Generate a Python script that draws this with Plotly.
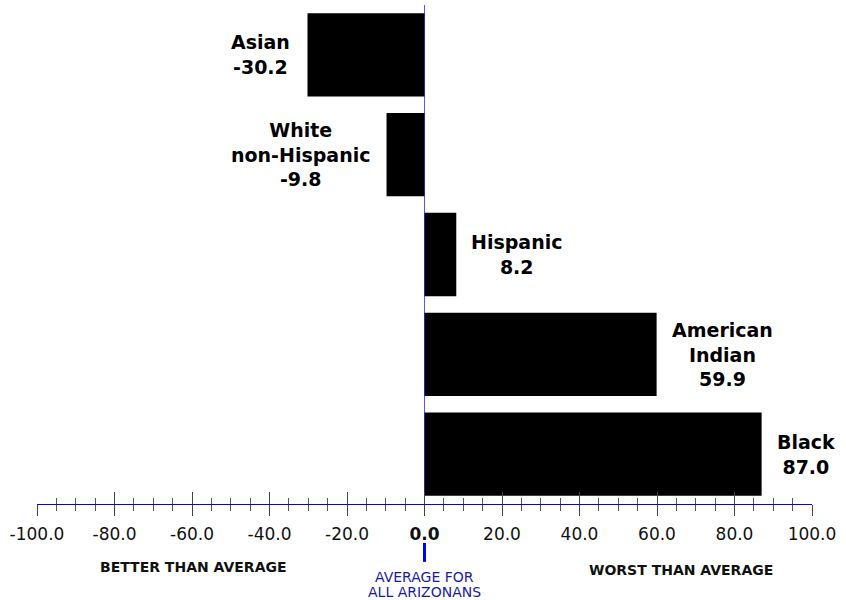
import plotly.graph_objects as go

# ---- data ----
groups = ["Asian", "White non-Hispanic", "Hispanic", "American Indian", "Black"]
group_labels = ["Asian", "White<br>non-Hispanic", "Hispanic", "American<br>Indian", "Black"]
values = [-30.2, -9.8, 8.2, 59.9, 87.0]
tick_values = [-100, -80, -60, -40, -20, 0, 20, 40, 60, 80, 100]
tick_texts = ["<b>0.0</b>" if v == 0 else f"{v:.1f}" for v in tick_values]

FONT = "DejaVu Sans"
BLUE = "#0000ff"

fig = go.Figure()
fig.add_trace(go.Bar(
    x=values, y=groups, orientation="h",
    marker=dict(color="#000000", line=dict(width=0)),
    hoverinfo="skip", showlegend=False,
))
# invisible helper trace so the overlaying axis (upper tick halves) is drawn
fig.add_trace(go.Scatter(
    x=values, y=groups, xaxis="x2", mode="markers",
    marker=dict(opacity=0), hoverinfo="skip", showlegend=False,
))

# value labels next to bar ends
for g, lab, v in zip(groups, group_labels, values):
    neg = v < 0
    fig.add_annotation(
        x=v, y=g, xref="x", yref="y",
        text=f"<b>{lab}<br>{v:.1f}</b>",
        showarrow=False,
        xanchor="right" if neg else "left",
        yanchor="middle",
        xshift=-15 if neg else 13,
        align="center",
        font=dict(family=FONT, size=19, color="#000000"),
    )

axis_common = dict(
    range=[-100, 100],
    showgrid=False,
    fixedrange=True,
)

fig.update_layout(
    width=846, height=600,
    margin=dict(l=37, r=34, t=5, b=96),
    paper_bgcolor="white", plot_bgcolor="white",
    bargap=0.165,
    xaxis=dict(
        **axis_common,
        anchor="y",
        showline=True, linecolor=BLUE, linewidth=1,
        zeroline=True, zerolinecolor="#5555ff", zerolinewidth=1,
        tickmode="array", tickvals=tick_values, ticktext=tick_texts,
        ticks="outside", ticklen=11, tickwidth=1, tickcolor="#444444",
        tickfont=dict(family=FONT, size=17, color="#111111"),
        ticklabelstandoff=4,
        minor=dict(ticks="outside", ticklen=6, tickwidth=1, tickcolor="#555555",
                   tickmode="linear", tick0=0, dtick=5, showgrid=False),
    ),
    xaxis2=dict(
        **axis_common,
        overlaying="x", anchor="y", side="bottom",
        showline=False, zeroline=False, showticklabels=False,
        tickmode="linear", tick0=0, dtick=20,
        ticks="inside", ticklen=12, tickwidth=1, tickcolor="#444444",
        minor=dict(ticks="inside", ticklen=6, tickwidth=1, tickcolor="#555555",
                   tickmode="linear", tick0=0, dtick=5, showgrid=False),
    ),
    yaxis=dict(
        categoryorder="array", categoryarray=groups,
        range=[4.5, -0.5],
        showticklabels=False, showgrid=False, zeroline=False, showline=False,
        ticks="", fixedrange=True,
    ),
)

# blue marker under the 0.0 tick label
fig.add_shape(type="line", xref="x", yref="paper", x0=0, x1=0,
              y0=-0.078, y1=-0.116, line=dict(color=BLUE, width=3))

fig.add_annotation(xref="paper", yref="paper", x=0.202, y=-0.126,
                   text="<b>BETTER THAN AVERAGE</b>", showarrow=False,
                   xanchor="center", yanchor="middle",
                   font=dict(family=FONT, size=14, color="#111111"))
fig.add_annotation(xref="paper", yref="paper", x=0.831, y=-0.132,
                   text="<b>WORST THAN AVERAGE</b>", showarrow=False,
                   xanchor="center", yanchor="middle",
                   font=dict(family=FONT, size=14, color="#111111"))
fig.add_annotation(xref="x", yref="paper", x=0, y=-0.1453,
                   text="AVERAGE FOR", showarrow=False,
                   xanchor="center", yanchor="middle",
                   font=dict(family=FONT, size=14, color="#1a1aa6"))
fig.add_annotation(xref="x", yref="paper", x=0, y=-0.1764,
                   text="ALL ARIZONANS", showarrow=False,
                   xanchor="center", yanchor="middle",
                   font=dict(family=FONT, size=14, color="#1a1aa6"))

fig.write_html(
    "out.html",
    config={"displayModeBar": False},
    post_script="document.body.style.margin='0';document.body.style.overflow='hidden';",
)
